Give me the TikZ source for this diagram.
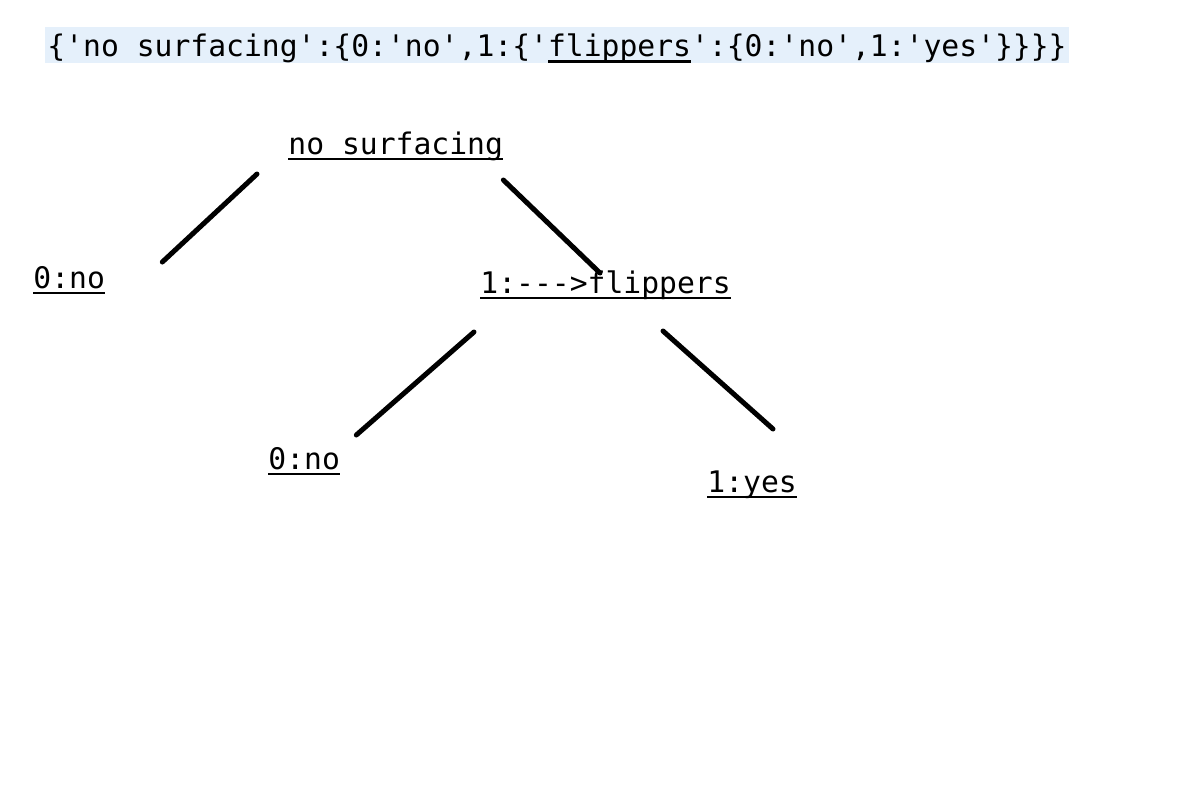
\documentclass[tikz,border=0pt]{standalone}
\usepackage{xcolor}
\usepackage{fontspec}
\setmonofont{DejaVu Sans Mono}
\usepackage{tikz}
\usetikzlibrary{positioning, calc}
\definecolor{codebg}{RGB}{229,240,251}
\newcommand{\ulin}[1]{\setbox0\hbox{#1}\rlap{\rule[-3.1pt]{\wd0}{1.2pt}}\box0}

\begin{document}
\begin{tikzpicture}[x=0.5pt, y=-0.5pt,
        label/.style={inner sep=0pt, anchor=base west, font=\ttfamily\fontsize{14.85pt}{18pt}\selectfont},
        edge/.style={line width=2.5pt, line cap=round}]
        \useasboundingbox (0,0) rectangle (1200,800);
        \node[label, fill=codebg, anchor=north west, inner xsep=1pt, text height=14.5pt, text depth=3.5pt] (dict) at (45,27)
            {\{'no surfacing':\{0:'no',1:\{'\ulin{flippers}':\{0:'no',1:'yes'\}\}\}\}};
        \node[label] (root) at (288,154) {\ulin{no surfacing}};
        \node[label] (leafno) at (33,288) {\ulin{0:no}};
        \node[label] (flip) at (480,293) {\ulin{1:--{}->flippers}};
        \node[label] (flipno) at (268,469) {\ulin{0:no}};
        \node[label] (flipyes) at (707,492) {\ulin{1:yes}};
        \draw[edge] ([shift={(-31,20)}]root.base west) -- ([shift={(57,-26)}]leafno.base east);
        \draw[edge] ([shift={(0,26)}]root.base east) -- ([shift={(120,-20)}]flip.base west);
        \draw[edge] ([shift={(-6,39)}]flip.base west) -- ([shift={(16,-34)}]flipno.base east);
        \draw[edge] ([shift={(183,38)}]flip.base west) -- ([shift={(66,-63)}]flipyes.base west);
    \end{tikzpicture}
\end{document}
